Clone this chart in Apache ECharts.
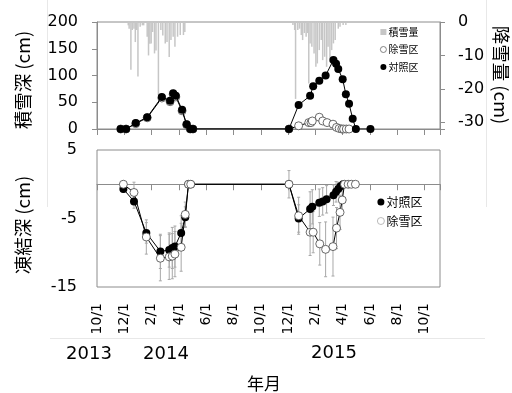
<!DOCTYPE html>
<html><head><meta charset="utf-8">
<script src="https://cdn.jsdelivr.net/npm/echarts@6/dist/echarts.min.js"></script>
<style>html,body{margin:0;padding:0;background:#fff}#c{width:512px;height:393px}</style>
</head><body><div id="c"></div>
<script>
// ---- data ----
const xTickLabels = ['10/1','12/1','2/1','4/1','6/1','8/1','10/1','12/1','2/1','4/1','6/1','8/1','10/1'];
const yearLabels = ['2013','2014','2015'];

// 降雪量 (cm), drawn as negative values hanging from the right axis
const snowfallDates = ['2013-12-10','2013-12-12','2013-12-16','2013-12-19','2013-12-23','2013-12-26','2013-12-29','2014-01-01','2014-01-06','2014-01-11','2014-01-14','2014-01-22','2014-01-25','2014-01-28','2014-01-31','2014-02-03','2014-02-07','2014-02-10','2014-02-15','2014-02-20','2014-02-24','2014-03-01','2014-03-05','2014-03-10','2014-03-14','2014-03-19','2014-03-23','2014-03-29','2014-04-04','2014-04-11','2014-04-14',
 '2014-12-12','2014-12-16','2014-12-18','2014-12-23','2014-12-27','2014-12-31','2015-01-03','2015-01-07','2015-01-11','2015-01-14','2015-01-17','2015-01-20','2015-01-24','2015-01-29','2015-02-02','2015-02-05','2015-02-09','2015-02-13','2015-02-16','2015-02-20','2015-02-24','2015-02-27','2015-03-03','2015-03-07','2015-03-11','2015-03-15','2015-03-22','2015-03-26','2015-04-02','2015-04-08'];
const snowfallValues = [-1,-2,-14.3,-2.4,-2,-6,-2.4,-16.3,-1.4,-1,-1,-4.4,-10,-6.5,-6.4,-3,-9.4,-8.5,-22,-2.4,-4,-6.4,-6,-10.5,-5.4,-4.4,-7.4,-4.4,-3.9,-3.9,-3,
 -0.9,-2.4,-23,-2.4,-2,-3.9,-5.4,-3.3,-4.4,-3.3,-18.4,-6.4,-7.4,-9.4,-13.4,-12.4,-8.4,-5.4,-11.4,-10.4,-13.4,-7.4,-12,-8.4,-6.4,-5.4,-2,-1.4,-0.9,-0.9];

// 積雪深 (cm)
const depthControlDates = ['2013-11-23','2013-12-05','2013-12-27','2014-01-22','2014-02-22','2014-03-12','2014-03-19','2014-03-25','2014-04-08','2014-04-18','2014-04-26','2014-05-02','2014-12-03','2014-12-25','2015-01-20','2015-01-27','2015-02-09','2015-02-22','2015-03-11','2015-03-17','2015-03-22','2015-04-01','2015-04-08','2015-04-15','2015-04-23','2015-04-30','2015-06-02'];
const depthControl = [0,0,11,22,60,53,67,62,36,9,0,0,0,45,62,80,90,100,129,122,112,93,65,47,19,0,0];
const depthRemovalDates = ['2013-11-23','2013-12-05','2013-12-27','2014-01-22','2014-02-22','2014-03-12','2014-03-19','2014-03-25','2014-04-08','2014-04-18','2014-04-26','2014-05-02','2014-12-03','2014-12-25','2015-01-17','2015-01-22','2015-01-25','2015-02-09','2015-02-16','2015-02-25','2015-03-10','2015-03-18','2015-03-24','2015-03-30','2015-04-03','2015-04-09','2015-04-15'];
const depthRemoval = [0,0,10,21,58,51,65,60,34,8,0,0,0,6,12,12,15,22,15,12,9,3,1,0,0,0,0];

// 凍結深 (cm)
const frostControlDates = ['2013-11-29','2013-12-23','2014-01-20','2014-02-19','2014-03-10','2014-03-17','2014-03-23','2014-04-06','2014-04-15','2014-04-22','2014-04-27','2014-12-03','2014-12-25','2015-01-20','2015-01-25','2015-02-09','2015-02-16','2015-02-24','2015-03-11','2015-03-17','2015-03-22','2015-03-27','2015-04-02'];
const frostControl = [-0.7,-2.5,-7.1,-9.8,-9.6,-9.3,-9.1,-7.1,-4.8,0,0,0,-5.0,-3.6,-3.3,-2.7,-2.5,-2.2,-1.6,-1.1,-0.7,-0.3,0];
const frostControlErr = [0.5,1,1.5,2.5,2.5,3,3,2.5,1.5,0,0,0.5,2,2.5,2.5,2,2,2,1.5,1.5,1,0.5,0];
const frostRemovalDates = ['2013-11-29','2013-12-23','2014-01-20','2014-02-19','2014-03-10','2014-03-17','2014-03-23','2014-04-06','2014-04-15','2014-04-22','2014-04-27','2014-12-03','2014-12-25','2015-01-20','2015-01-27','2015-02-10','2015-02-22','2015-03-10','2015-03-18','2015-03-26','2015-03-31','2015-04-05','2015-04-13','2015-04-20','2015-04-29'];
const frostRemoval = [0,-1.2,-7.7,-10.8,-10.6,-10.5,-10.2,-9.2,-4.4,0,0,0,-4.6,-7.0,-7.0,-8.7,-9.5,-9.1,-6.4,-4.1,-2.3,0,0,0,0];
const frostRemovalErr = [0.5,1.5,2.5,3.3,3.3,3.3,3.3,3.5,1.8,0,0,2,2.7,3.4,3,3.1,4,4.3,3,2.5,1.5,0,0,0,0];

// ---- helpers ----
function mIdx(s){
  const p = s.split('-').map(Number);
  const dim = new Date(p[0], p[1], 0).getDate();
  return (p[0]-2013)*12 + (p[1]-10) + (p[2]-1)/dim;
}
const XMAX = 25.13;
const AX = '#8c8c8c';
const NUMF = 'DejaVu Sans';
const JPF = 'Noto Sans CJK JP';

function errRender(params, api){
  const x = api.value(0), y = api.value(1), e = api.value(2);
  if (!e) return null;
  const t = api.coord([x, y + e]), b = api.coord([x, y - e]);
  const c = 1.5, st = {stroke:'#a8a8a8', lineWidth:1};
  return {type:'group', children:[
    {type:'line', shape:{x1:t[0], y1:t[1], x2:b[0], y2:b[1]}, style:st},
    {type:'line', shape:{x1:t[0]-c, y1:t[1], x2:t[0]+c, y2:t[1]}, style:st},
    {type:'line', shape:{x1:b[0]-c, y1:b[1], x2:b[0]+c, y2:b[1]}, style:st}
  ]};
}

const xBase = {
  type:'value', min:0, max:XMAX, interval:2,
  axisLine:{show:true, onZero:false, lineStyle:{color:AX}},
  axisTick:{show:true, inside:false, length:6, lineStyle:{color:AX}},
  axisLabel:{show:false}, splitLine:{show:false}
};

const chart = echarts.init(document.getElementById('c'), null, {renderer:'canvas'});
chart.setOption({
  animation:false,
  backgroundColor:'#fff',
  grid:[
    {left:97, top:22, width:343, height:107, show:true, borderColor:AX, borderWidth:1, containLabel:false},
    {left:97, top:150, width:343, height:137, show:true, borderColor:AX, borderWidth:1, containLabel:false}
  ],
  xAxis:[
    Object.assign({}, xBase, {gridIndex:0}),
    Object.assign({}, xBase, {gridIndex:1, axisLine:{show:true, onZero:true, lineStyle:{color:AX}}}),
    {gridIndex:1, type:'value', min:0, max:XMAX, interval:2, position:'bottom',
     axisLine:{show:false, onZero:false}, axisTick:{show:false}, splitLine:{show:false},
     axisLabel:{show:true, rotate:90, margin:16, fontSize:14, color:'#000', fontFamily:NUMF,
       formatter:function(v){ const k = v/2; return (Math.abs(k-Math.round(k))<1e-6 && k>=0 && k<xTickLabels.length) ? xTickLabels[Math.round(k)] : ''; }}}
  ],
  yAxis:[
    {gridIndex:0, type:'value', min:0, max:200, interval:50, position:'left',
     axisLine:{show:true, onZero:false, lineStyle:{color:AX}}, axisTick:{show:true, length:5, lineStyle:{color:AX}},
     axisLabel:{fontSize:16, margin:19, color:'#000', fontFamily:NUMF}, splitLine:{show:false}},
    {gridIndex:0, type:'value', min:0, max:32, interval:10, inverse:true, position:'right',
     axisLine:{show:true, onZero:false, lineStyle:{color:AX}}, axisTick:{show:true, length:5, lineStyle:{color:AX}},
     axisLabel:{fontSize:16, margin:18, color:'#000', fontFamily:NUMF,
       formatter:function(v){ if (v===0) return '0'; return (v%10===0) ? '-'+v : ''; }}, splitLine:{show:false}},
    {gridIndex:1, type:'value', min:-15, max:5, interval:10,
     axisLine:{show:false, onZero:false}, axisTick:{show:false},
     axisLabel:{fontSize:16, margin:20, color:'#000', fontFamily:NUMF}, splitLine:{show:false}}
  ],
  legend:[
    {left:380, top:26, orient:'vertical', padding:0, itemGap:5.5, itemWidth:6, itemHeight:6, selectedMode:false,
     textStyle:{fontSize:10, lineHeight:12, color:'#000', fontFamily:JPF, padding:[0,0,0,-3]},
     data:[
       {name:'積雪量', icon:'rect', itemStyle:{color:'#c6c6c6', borderWidth:0}},
       {name:'除雪区', icon:'circle', itemStyle:{color:'#fff', borderColor:'#666', borderWidth:0.8}},
       {name:'対照区', icon:'circle', itemStyle:{color:'#000', borderWidth:0}}
     ]},
    {left:377, top:195, orient:'vertical', padding:0, itemGap:5, itemWidth:7, itemHeight:7, selectedMode:false,
     textStyle:{fontSize:12, lineHeight:14, color:'#000', fontFamily:JPF, padding:[0,0,0,-3]},
     data:[
       {name:'対照区', icon:'circle', itemStyle:{color:'#000', borderWidth:0}},
       {name:'除雪区', icon:'circle', itemStyle:{color:'#fff', borderColor:'#aaa', borderWidth:0.8}}
     ]}
  ],
  series:[
    {type:'bar', name:'積雪量', xAxisIndex:0, yAxisIndex:1, barWidth:1.5, z:1,
     itemStyle:{color:'#c6c6c6'},
     data: snowfallDates.map((d,i)=>[mIdx(d), -snowfallValues[i]])},
    {type:'line', name:'除雪区', xAxisIndex:0, yAxisIndex:0, z:3,
     symbol:'circle', symbolSize:8, showSymbol:true,
     itemStyle:{color:'#fff', borderColor:'#444', borderWidth:0.8},
     lineStyle:{color:'#000', width:1},
     data: depthRemovalDates.map((d,i)=>[mIdx(d), depthRemoval[i]])},
    {type:'line', name:'対照区', xAxisIndex:0, yAxisIndex:0, z:4,
     symbol:'circle', symbolSize:8, showSymbol:true,
     itemStyle:{color:'#000'}, lineStyle:{color:'#000', width:1},
     data: depthControlDates.map((d,i)=>[mIdx(d), depthControl[i]])},
    {type:'custom', name:'err1', xAxisIndex:1, yAxisIndex:2, z:2, silent:true, renderItem:errRender,
     encode:{x:0, y:1},
     data: frostControlDates.map((d,i)=>[mIdx(d), frostControl[i], frostControlErr[i]])},
    {type:'custom', name:'err2', xAxisIndex:1, yAxisIndex:2, z:2, silent:true, renderItem:errRender,
     encode:{x:0, y:1},
     data: frostRemovalDates.map((d,i)=>[mIdx(d), frostRemoval[i], frostRemovalErr[i]])},
    {type:'line', name:'対照区', xAxisIndex:1, yAxisIndex:2, z:3,
     symbol:'circle', symbolSize:8, showSymbol:true,
     itemStyle:{color:'#000'}, lineStyle:{color:'#000', width:1},
     data: frostControlDates.map((d,i)=>[mIdx(d), frostControl[i]])},
    {type:'line', name:'除雪区', xAxisIndex:1, yAxisIndex:2, z:4,
     symbol:'circle', symbolSize:8, showSymbol:true,
     itemStyle:{color:'#fff', borderColor:'#444', borderWidth:0.8},
     lineStyle:{color:'#000', width:1},
     data: frostRemovalDates.map((d,i)=>[mIdx(d), frostRemoval[i]])}
  ],
  graphic:[
    {type:'line', silent:true, shape:{x1:47.5, y1:0, x2:47.5, y2:207}, style:{stroke:'#e8e8e8', lineWidth:1}},
    {type:'line', silent:true, shape:{x1:486.5, y1:0, x2:486.5, y2:207}, style:{stroke:'#e8e8e8', lineWidth:1}},
    {type:'line', silent:true, shape:{x1:50, y1:338.5, x2:485, y2:338.5}, style:{stroke:'#e8e8e8', lineWidth:1}},
    {type:'text', x:23, y:80, rotation:Math.PI/2, silent:true,
     style:{text:'積雪深 (cm)', fontSize:18.5, fontFamily:JPF, fill:'#000', textAlign:'center', textVerticalAlign:'middle', align:'center', verticalAlign:'middle'}},
    {type:'text', x:23, y:225, rotation:Math.PI/2, silent:true,
     style:{text:'凍結深 (cm)', fontSize:18.5, fontFamily:JPF, fill:'#000', textAlign:'center', textVerticalAlign:'middle', align:'center', verticalAlign:'middle'}},
    {type:'text', x:501, y:75, rotation:-Math.PI/2, silent:true,
     style:{text:'降雪量 (cm)', fontSize:18.5, fontFamily:JPF, fill:'#000', textAlign:'center', textVerticalAlign:'middle', align:'center', verticalAlign:'middle'}},
    {type:'text', x:89, y:354, silent:true,
     style:{text:yearLabels[0], fontSize:18, fontFamily:NUMF, fill:'#000', textAlign:'center', textVerticalAlign:'middle', align:'center', verticalAlign:'middle'}},
    {type:'text', x:166, y:354, silent:true,
     style:{text:yearLabels[1], fontSize:18, fontFamily:NUMF, fill:'#000', textAlign:'center', textVerticalAlign:'middle', align:'center', verticalAlign:'middle'}},
    {type:'text', x:334, y:353, silent:true,
     style:{text:yearLabels[2], fontSize:18, fontFamily:NUMF, fill:'#000', textAlign:'center', textVerticalAlign:'middle', align:'center', verticalAlign:'middle'}},
    {type:'text', x:264, y:384, silent:true,
     style:{text:'年月', fontSize:17, fontFamily:JPF, fill:'#000', textAlign:'center', textVerticalAlign:'middle', align:'center', verticalAlign:'middle'}}
  ]
});
</script>
</body></html>
